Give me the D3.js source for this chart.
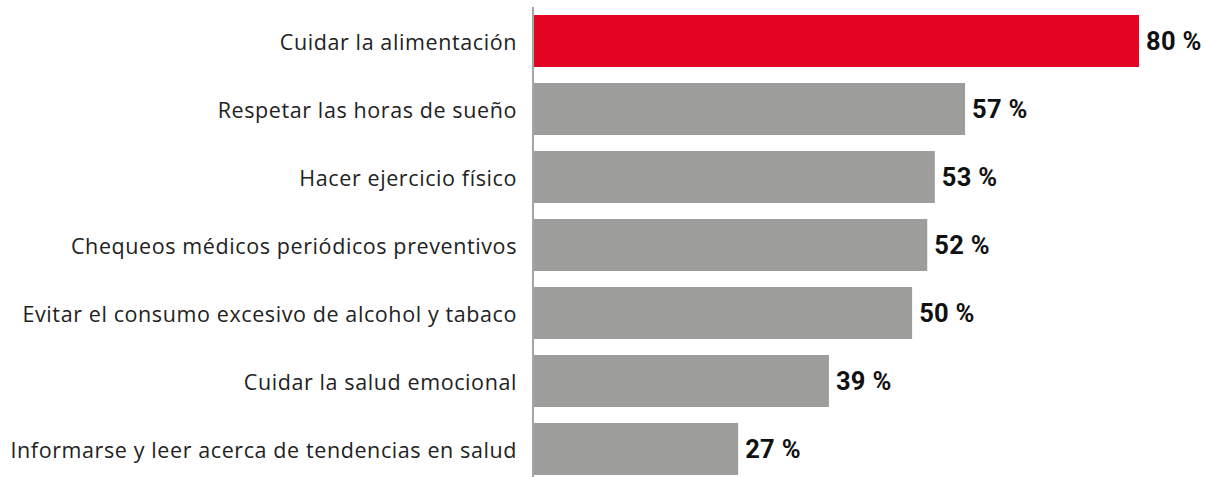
<!DOCTYPE html>
<html><head><meta charset="utf-8">
<script src="https://cdn.jsdelivr.net/npm/d3@7"></script>
<style>
html,body{margin:0;padding:0;background:#fff;}
svg{display:block;}
</style></head>
<body>
<svg id="chart" width="1205" height="477"></svg>
<script>
const categories = [
  "Cuidar la alimentación",
  "Respetar las horas de sueño",
  "Hacer ejercicio físico",
  "Chequeos médicos periódicos preventivos",
  "Evitar el consumo excesivo de alcohol y tabaco",
  "Cuidar la salud emocional",
  "Informarse y leer acerca de tendencias en salud"
];
const values = [80, 57, 53, 52, 50, 39, 27];
const highlight = [true, false, false, false, false, false, false];

const svg = d3.select("#chart");
const x0 = 534;
const x = d3.scaleLinear().domain([0, 80]).range([x0, 1139]);
const y = d3.scaleBand().domain(categories).range([7, 483]).paddingInner(16/68).paddingOuter(8/68);

svg.selectAll("rect.bar").data(values).join("rect")
  .attr("class","bar")
  .attr("x", x(0))
  .attr("y", (d,i)=>y(categories[i]))
  .attr("width", d=>x(d)-x(0))
  .attr("height", y.bandwidth())
  .attr("fill", (d,i)=>highlight[i] ? "#e30521" : "#9d9d9c");

svg.selectAll("text.val").data(values).join("text")
  .attr("class","val")
  .attr("x", d=>x(d)+7)
  .attr("y", (d,i)=>y(categories[i]) + y.bandwidth()/2)
  .attr("dy","0.37em")
  .attr("font-family","Roboto")
  .attr("font-weight","bold")
  .attr("font-size","25.5px")
  .attr("letter-spacing","0.3px")
  .attr("fill","#111")
  .text(d=>d+" %");

const yAxis = d3.axisLeft(y).tickSize(0).tickPadding(16);
const g = svg.append("g").attr("transform",`translate(${x0-1},0)`).call(yAxis);
g.select(".domain").remove();
g.selectAll("text")
  .attr("font-family","Open Sans")
  .attr("font-size","21.5px")
  .attr("letter-spacing","0.6px")
  .attr("dy","0.4em")
  .attr("fill","#222");

svg.append("line")
  .attr("x1", x0-1).attr("x2", x0-1)
  .attr("y1", 7).attr("y2", 477)
  .attr("stroke","#888").attr("stroke-width",1.5);
</script>
</body></html>
